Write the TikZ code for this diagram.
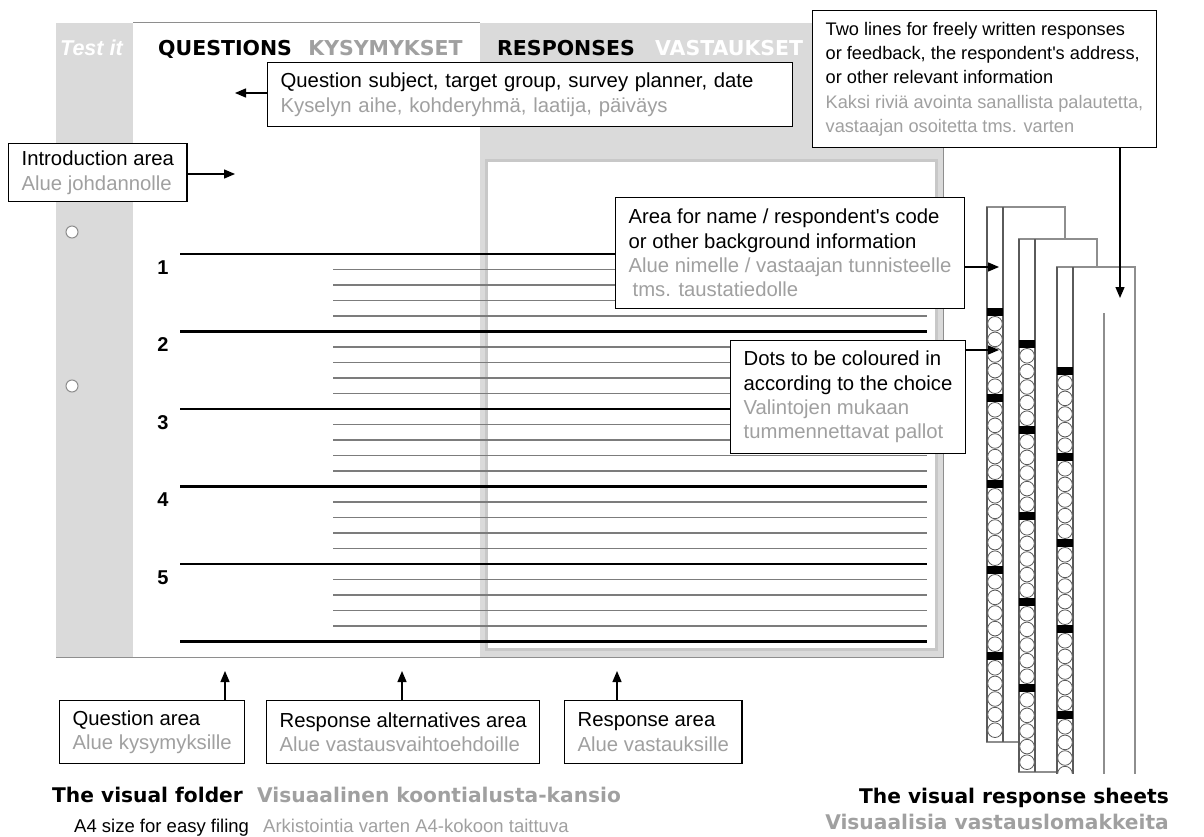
\documentclass[tikz,border=0pt]{standalone}
\usepackage{fontspec}
\setmainfont{Liberation Sans}
\newfontfamily\dejavu{DejaVu Sans}
\usepackage{tikz}
\usetikzlibrary{arrows.meta,positioning}

\definecolor{foldergray}{HTML}{DADADA}
\definecolor{fingray}{HTML}{A0A0A0}
\definecolor{edgegray}{HTML}{8E8E8E}
\definecolor{rulegray}{HTML}{7C7C7C}
\definecolor{stripgray}{HTML}{5A5A5A}
\definecolor{shadowgray}{HTML}{C8C8C8}

\newcommand{\finn}[1]{\textcolor{fingray}{#1}}
\newcommand{\boxfont}{\fontsize{20.3}{24.3}\selectfont}
\newcommand{\smallboxfont}{\fontsize{18.2}{24.3}\selectfont}
\newcommand{\headfont}{\dejavu\bfseries\fontsize{20.5}{24}\selectfont}
\newcommand{\testfont}{\bfseries\itshape\fontsize{21.5}{24}\selectfont}
\newcommand{\capfont}{\dejavu\bfseries\fontsize{20.2}{24}\selectfont}
\newcommand{\subcapfont}{\fontsize{18.5}{22}\selectfont}
\newcommand{\numfont}{\bfseries\fontsize{20}{22}\selectfont}

\tikzset{
  callout/.style={draw=black, line width=1.3pt, fill=white, anchor=north west,
    align=left, inner xsep=13pt, inner ysep=2pt, font=\boxfont},
  pointer/.style={-{Triangle[length=11pt,width=9pt]}, line width=1.3pt},
  heading/.style={anchor=base west, inner sep=0pt, font=\headfont},
  caption/.style={inner sep=0pt, font=\capfont},
  subcap/.style={anchor=base west, inner sep=0pt, font=\subcapfont},
  qnum/.style={anchor=base, inner sep=0pt, font=\numfont},
  qrule/.style={line width=2.2pt},
  arule/.style={rulegray, line width=1.4pt},
  sheetline/.style={edgegray, line width=1.5pt},
  stripline/.style={stripgray, line width=1.2pt},
  dotmark/.style={stripgray, line width=0.8pt, fill=white},
}

\begin{document}
\begin{tikzpicture}[x=1pt, y=-1pt]
  \useasboundingbox (0,0) rectangle (1204,837);

  % Folder
  \fill[foldergray] (56,23) rectangle (943,657);
  \fill[white] (133,23) rectangle (480,657);
  \draw[edgegray, line width=1pt] (133,22.5) -- (480,22.5);
  \draw[edgegray, line width=1pt] (56,657) -- (943,657) -- (943,23);
  \draw[shadowgray, line width=3pt, fill=white] (486,161) rectangle (936,649);

  % Question rules
  \foreach \k in {0,...,5}
    \draw[qrule] (180,254+77.5*\k) -- (927,254+77.5*\k);
  \foreach \k in {0,...,4}
    \foreach \j in {1,...,4}
      \draw[arule] (333,254+77.5*\k+15.5*\j) -- (927,254+77.5*\k+15.5*\j);
  \foreach \k in {1,...,5}
    \node[qnum] (q\k) at (163,196.5+77.5*\k) {\k};

  % Holes
  \foreach \hy in {232,386}
    \draw[edgegray, line width=1pt, fill=white] (72,\hy) circle[radius=6pt];

  % Headings
  \node[heading, white, font=\testfont] (testit) at (60,56) {Test it};
  \node[heading] (qhead) at (158,56) {QUESTIONS};
  \node[heading, fingray, right=16pt of qhead.base east, anchor=base west] (qheadfi) {KYSYMYKSET};
  \node[heading] (rhead) at (497,56) {RESPONSES};
  \node[heading, white] (rheadfi) at (655,56) {VASTAUKSET};

  % Response sheets
  \begin{scope}
    \clip (960,180) rectangle (1204,773);
    \foreach \sx/\sy/\sb/\dy in {987/207/742/308, 1019/239/772/340, 1057/267/800/367}{
      \draw[sheetline, fill=white] (\sx,\sy) rectangle (\sx+78,\sb);
      \draw[stripline] (\sx,\sy) -- (\sx,\sb) (\sx+16,\sy) -- (\sx+16,\sb);
      \foreach \g in {0,...,4}{
        \fill (\sx,\dy+86*\g) rectangle (\sx+16,\dy+86*\g+8);
        \foreach \c in {0,...,4}
          \draw[dotmark] (\sx+8,\dy+86*\g+15.8+15.6*\c) circle[radius=7.3pt];
      }
    }
    \draw[sheetline] (1104,313) -- (1104,800);
  \end{scope}

  % Callouts
  \node[callout, text width=499pt, minimum height=64pt] (subj) at (267,62)
    {Question subject, target group, survey planner, date\\
     \finn{Kyselyn aihe, kohderyhmä, laatija, päiväys}};
  \node[callout, minimum height=58pt] (intro) at (8,143)
    {Introduction area\\ \finn{Alue johdannolle}};
  \node[callout, minimum height=137pt, font=\smallboxfont] (tlines) at (812,10)
    {Two lines for freely written responses\\
     or feedback, the respondent\textquotesingle s address,\\
     or other relevant information\\
     \finn{Kaksi riviä avointa sanallista palautetta,}\\
     \finn{vastaajan osoitetta tms. varten}};
  \node[callout, minimum height=111pt] (aname) at (615,197)
    {Area for name / respondent\textquotesingle s code\\
     or other background information\\
     \finn{Alue nimelle / vastaajan tunnisteelle}\\
     \finn{\hspace*{4pt}tms. taustatiedolle}};
  \node[callout, minimum height=113pt] (adots) at (730,340)
    {Dots to be coloured in\\
     according to the choice\\
     \finn{Valintojen mukaan}\\
     \finn{tummennettavat pallot}};
  \node[callout, minimum height=63pt] (qarea) at (59,700)
    {Question area\\ \finn{Alue kysymyksille}};
  \node[callout, minimum height=63pt] (altarea) at (266,700)
    {Response alternatives area\\ \finn{Alue vastausvaihtoehdoille}};
  \node[callout, minimum height=63pt] (resparea) at (564,700)
    {Response area\\ \finn{Alue vastauksille}};

  % Pointers
  \coordinate (subjtip) at (235,93);
  \coordinate (introtip) at (235,174);
  \coordinate (tlinestip) at (1120,298);
  \coordinate (anametip) at (999,267);
  \coordinate (adotstip) at (999,350);
  \coordinate (qareatip) at (225,671);
  \coordinate (altareatip) at (402,671);
  \coordinate (respareatip) at (617,671);
  \draw[pointer] (subj.west |- subjtip) -- (subjtip);
  \draw[pointer] (intro.east |- introtip) -- (introtip);
  \draw[pointer] (tlines.south -| tlinestip) -- (tlinestip);
  \draw[pointer] (aname.east |- anametip) -- (anametip);
  \draw[pointer] (adots.east |- adotstip) -- (adotstip);
  \draw[pointer] (qarea.north -| qareatip) -- (qareatip);
  \draw[pointer] (altarea.north -| altareatip) -- (altareatip);
  \draw[pointer] (resparea.north -| respareatip) -- (respareatip);

  % Captions
  \node[caption, anchor=base west] (foldercap) at (52,802) {The visual folder};
  \node[caption, anchor=base west, fingray] (foldercapfi) at (257,802) {Visuaalinen koontialusta-kansio};
  \node[subcap] (filing) at (74,832) {A4 size for easy filing};
  \node[subcap, fingray] (filingfi) at (263,832) {Arkistointia varten A4-kokoon taittuva};
  \node[caption, anchor=base east] (sheetcap) at (1169,803) {The visual response sheets};
  \node[caption, anchor=base east, fingray] (sheetcapfi) at (1169,829) {Visuaalisia vastauslomakkeita};
\end{tikzpicture}
\end{document}
